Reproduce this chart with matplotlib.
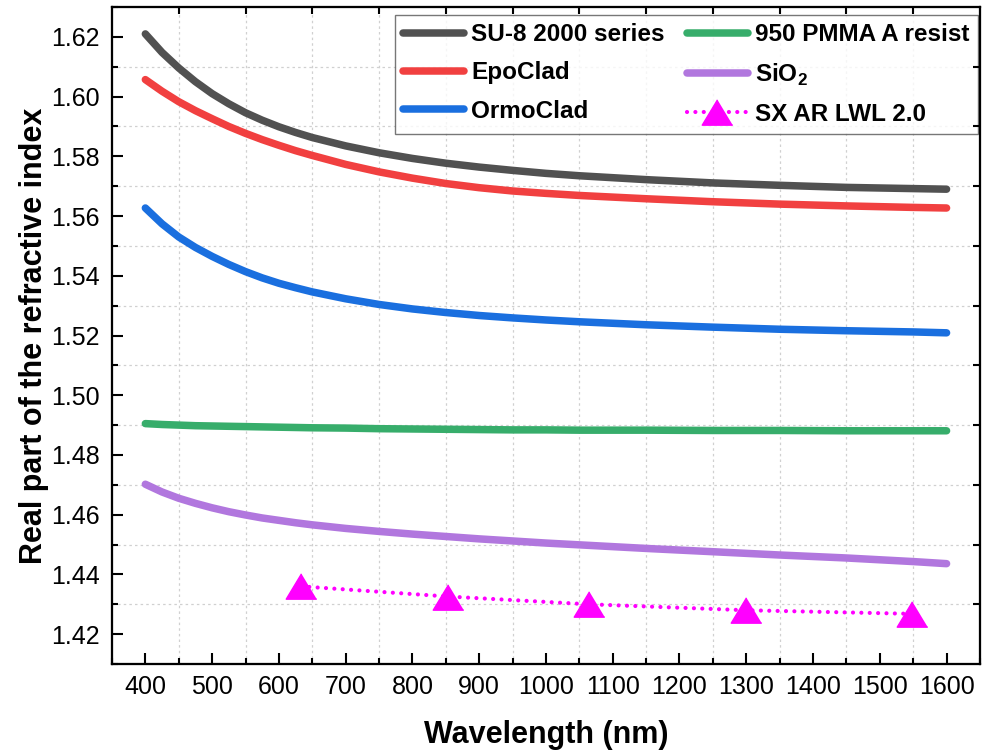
import numpy as np
import matplotlib
matplotlib.use("Agg")
import matplotlib.pyplot as plt
from matplotlib.ticker import MultipleLocator, NullFormatter, FormatStrFormatter

plt.rcParams["font.family"] = ["Liberation Sans", "DejaVu Sans"]
plt.rcParams["mathtext.fontset"] = "custom"
plt.rcParams["mathtext.rm"] = "Liberation Sans:bold"
plt.rcParams["mathtext.bf"] = "Liberation Sans:bold"

# --- data ---
wl = [400, 425, 450, 475, 500, 525, 550, 575, 600, 625, 650, 700, 750, 800, 850,
      900, 950, 1000, 1050, 1150, 1250, 1350, 1450, 1550, 1600]
su8 = [1.6210, 1.6148, 1.6096, 1.6050, 1.6010, 1.5976, 1.5946, 1.5921, 1.5899,
       1.5880, 1.5863, 1.5835, 1.5812, 1.5793, 1.5777, 1.5764, 1.5753, 1.5743,
       1.5735, 1.5722, 1.5711, 1.5703, 1.5696, 1.5692, 1.5690]
epoclad = [1.6057, 1.6018, 1.5983, 1.5953, 1.5926, 1.5900, 1.5877, 1.5856, 1.5837,
           1.5819, 1.5803, 1.5773, 1.5748, 1.5727, 1.5709, 1.5695, 1.5684, 1.5676,
           1.5669, 1.5658, 1.5648, 1.5640, 1.5634, 1.5629, 1.5627]
ormoclad = [1.5627, 1.5574, 1.5530, 1.5495, 1.5465, 1.5438, 1.5414, 1.5393, 1.5375,
            1.5360, 1.5346, 1.5323, 1.5304, 1.5289, 1.5277, 1.5267, 1.5259, 1.5252,
            1.5246, 1.5236, 1.5228, 1.5221, 1.5216, 1.5212, 1.5209]
pmma = [1.4905, 1.4902, 1.4900, 1.4898, 1.4897, 1.4896, 1.4895, 1.4894, 1.4893,
        1.4892, 1.4891, 1.4890, 1.4888, 1.4887, 1.4886, 1.4885, 1.4884, 1.4884,
        1.4883, 1.4883, 1.4882, 1.4882, 1.4881, 1.4881, 1.4881]
sio2 = [1.4702, 1.4676, 1.4655, 1.4638, 1.4623, 1.4610, 1.4599, 1.4589, 1.4581,
        1.4573, 1.4566, 1.4554, 1.4544, 1.4535, 1.4527, 1.4519, 1.4512, 1.4505,
        1.4499, 1.4487, 1.4476, 1.4465, 1.4455, 1.4443, 1.4436]
sx_wl = [633, 853, 1064, 1300, 1548]
sx_n = [1.4360, 1.4326, 1.4300, 1.4280, 1.4268]

series = [
    ("SU-8 2000 series", su8, "#515151"),
    ("EpoClad", epoclad, "#F14040"),
    ("OrmoClad", ormoclad, "#1A6FDF"),
    ("950 PMMA A resist", pmma, "#37AD6B"),
    (r"SiO$_{\mathbf{2}}$", sio2, "#B177DE"),
]

fig = plt.figure(figsize=(9.83, 7.56), dpi=100)
ax = fig.add_axes([0.1139, 0.1217, 0.8830, 0.8690])

for label, vals, col in series:
    ax.plot(wl, vals, color=col, lw=5.4, solid_capstyle="round",
            solid_joinstyle="round", label=label)

tri = [(0, 0.83), (-1, -0.83), (1, -0.83)]
ax.plot(sx_wl, sx_n, color="#FF00FF", lw=3.0, linestyle=(0, (0.01, 2.0)),
        dash_capstyle="round", marker=tri, markersize=22, label="SX AR LWL 2.0")

ax.set_xlim(350, 1650)
ax.set_ylim(1.41, 1.63)
ax.xaxis.set_major_locator(MultipleLocator(100))
ax.xaxis.set_minor_locator(MultipleLocator(50))
ax.yaxis.set_major_locator(MultipleLocator(0.02))
ax.yaxis.set_minor_locator(MultipleLocator(0.01))
ax.yaxis.set_major_formatter(FormatStrFormatter("%.2f"))

ax.tick_params(which="major", direction="in", length=8, width=1.5, labelsize=18)
ax.tick_params(axis="x", which="major", pad=8)
ax.tick_params(axis="y", which="major", pad=9)
ax.tick_params(which="minor", direction="in", length=4.3, width=1.5)
for s in ax.spines.values():
    s.set_linewidth(1.5)

# grid only on the offset (minor) positions, like Origin
for x in np.arange(450, 1651, 100):
    ax.axvline(x, color="#d0d0d0", lw=0.9, ls=(0, (2, 2.5)), zorder=0)
for y in np.arange(1.43, 1.62, 0.02):
    ax.axhline(y, color="#d0d0d0", lw=0.9, ls=(0, (2, 2.5)), zorder=0)

# top and right axes with offset ticks
axt = ax.twiny()
axt.set_xlim(ax.get_xlim())
axt.set_xticks(np.arange(450, 1600, 100))
axt.xaxis.set_major_formatter(NullFormatter())
axt.tick_params(direction="in", length=5, width=1.5)
axr = ax.twinx()
axr.set_ylim(ax.get_ylim())
axr.set_yticks(np.arange(1.43, 1.62, 0.02))
axr.yaxis.set_major_formatter(NullFormatter())
axr.tick_params(direction="in", length=5, width=1.5)
for a in (axt, axr):
    for s in a.spines.values():
        s.set_linewidth(1.5)

ax.set_xlabel("Wavelength (nm)", fontsize=22, fontweight="bold", labelpad=15)
ax.set_ylabel("Real part of the refractive index", fontsize=22, fontweight="bold", labelpad=1)

leg = ax.legend(ncol=2, loc="upper right", bbox_to_anchor=(0.9975, 0.988),
                prop={"weight": "bold", "size": 17.5}, frameon=True, fancybox=False,
                edgecolor="#555555", handlelength=2.5, handletextpad=0.3,
                columnspacing=0.9, labelspacing=0.62, borderpad=0.35, borderaxespad=0)
leg.get_frame().set_linewidth(1.0)
leg.set_zorder(5)

fig.savefig("out.png", dpi=100)
